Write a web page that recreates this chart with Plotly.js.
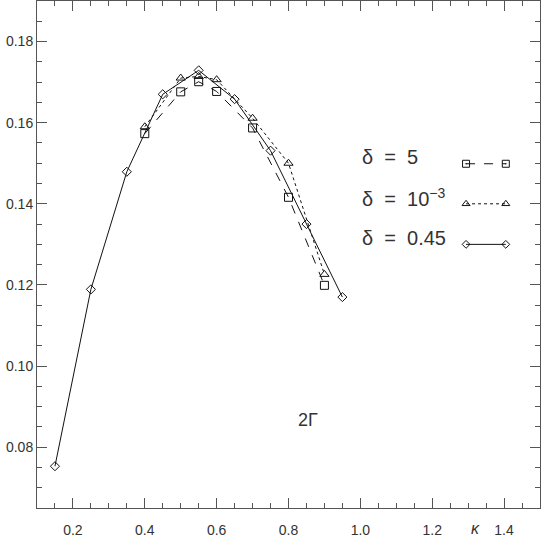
<!DOCTYPE html>
<html>
<head>
<meta charset="utf-8">
<script src="https://cdn.plot.ly/plotly-3.0.1.min.js"></script>
<style>
  html, body { margin: 0; padding: 0; background: #fff; }
  #chart { width: 541px; height: 537px; }
</style>
</head>
<body>
<div id="chart"></div>
<script>
// values (kappa vs 2*Gamma)
const kappaSq = [0.4, 0.5, 0.55, 0.6, 0.7, 0.8, 0.9];
const gammaSq = [0.1573, 0.1676, 0.1701, 0.1677, 0.1587, 0.1416, 0.1199];   // delta = 5
const kappaTri = [0.4, 0.5, 0.55, 0.6, 0.7, 0.8, 0.9];
const gammaTri = [0.159, 0.171, 0.1714, 0.1706, 0.1611, 0.150, 0.1226];     // delta = 1e-3
const kappaDia = [0.15, 0.25, 0.35, 0.45, 0.55, 0.65, 0.75, 0.85, 0.95];
const gammaDia = [0.0753, 0.1189, 0.1479, 0.167, 0.1729, 0.1658, 0.1531, 0.135, 0.117]; // delta = 0.45
const seriesLabels = ["δ  =  5", "δ  =  10<sup>−3</sup>", "δ  =  0.45"];

const ink = "#111", axisCol = "#555", textCol = "#333";
const font = "Liberation Sans, Arial, sans-serif";

// legend key samples, drawn on an overlay 0..1 axis pair
const keyX = [0.853, 0.932];
const keyY = [0.679, 0.600, 0.520];
const textY = [0.692, 0.613, 0.533];

const styles = [
    { dash: "dash", symbol: "square-open", size: 8 },
    { dash: "dot", symbol: "triangle-up-open", size: 8 },
    { dash: "solid", symbol: "diamond-open", size: 7 }
];
const xs = [kappaSq, kappaTri, kappaDia], ys = [gammaSq, gammaTri, gammaDia];

const traces = styles.map((s, i) => ({
    x: xs[i], y: ys[i], type: "scatter", mode: "lines+markers", showlegend: false,
    line: { color: ink, width: 1, dash: s.dash },
    marker: { symbol: s.symbol, size: s.size, color: ink, line: { color: ink, width: 1 } },
    cliponaxis: false
}));
styles.forEach((s, i) => traces.push({
    x: keyX, y: [keyY[i], keyY[i]], xaxis: "x2", yaxis: "y2", type: "scatter", mode: "lines+markers",
    showlegend: false, hoverinfo: "skip",
    line: { color: ink, width: 1, dash: s.dash },
    marker: { symbol: i === 0 ? "square-open-dot" : s.symbol, size: s.size - 1, color: ink, line: { color: ink, width: 1 } }
}));

const annotations = seriesLabels.map((t, i) => ({
    text: t, xref: "paper", yref: "paper", x: 0.642, y: textY[i], xanchor: "left", yanchor: "middle",
    showarrow: false, font: { family: font, size: 20, color: textCol }
}));
annotations.push({ text: "2Γ", xref: "paper", yref: "paper", x: 0.539, y: 0.173, xanchor: "center", yanchor: "middle",
    showarrow: false, font: { family: font, size: 18, color: textCol } });
annotations.push({ text: "<i>κ</i>", xref: "paper", yref: "paper", x: 0.871, y: -0.04, xanchor: "center", yanchor: "middle",
    showarrow: false, font: { family: font, size: 16, color: textCol } });

const axisBase = {
    showgrid: false, zeroline: false, showline: true, linecolor: axisCol, linewidth: 1,
    mirror: "ticks", ticks: "inside", ticklen: 10, tickcolor: axisCol, tickwidth: 1,
    tickfont: { family: font, size: 14, color: textCol }
};

const layout = {
    width: 541, height: 537,
    margin: { l: 37, r: 1, t: 1, b: 29 },
    paper_bgcolor: "#fff", plot_bgcolor: "#fff",
    showlegend: false,
    xaxis: Object.assign({}, axisBase, {
        range: [0.1, 1.5], dtick: 0.2, tick0: 0, tickformat: ".1f", ticklabelstandoff: 9,
        minor: { dtick: 0.05, tick0: 0, ticklen: 5, ticks: "inside", tickcolor: axisCol }
    }),
    yaxis: Object.assign({}, axisBase, {
        range: [0.065, 0.19], dtick: 0.02, tick0: 0, tickformat: ".2f",
        minor: { dtick: 0.005, tick0: 0, ticklen: 5, ticks: "inside", tickcolor: axisCol }
    }),
    xaxis2: { overlaying: "x", range: [0, 1], visible: false, fixedrange: true },
    yaxis2: { overlaying: "y", range: [0, 1], visible: false, fixedrange: true },
    annotations: annotations
};

Plotly.newPlot("chart", traces, layout, { displayModeBar: false, staticPlot: true });
</script>
</body>
</html>
